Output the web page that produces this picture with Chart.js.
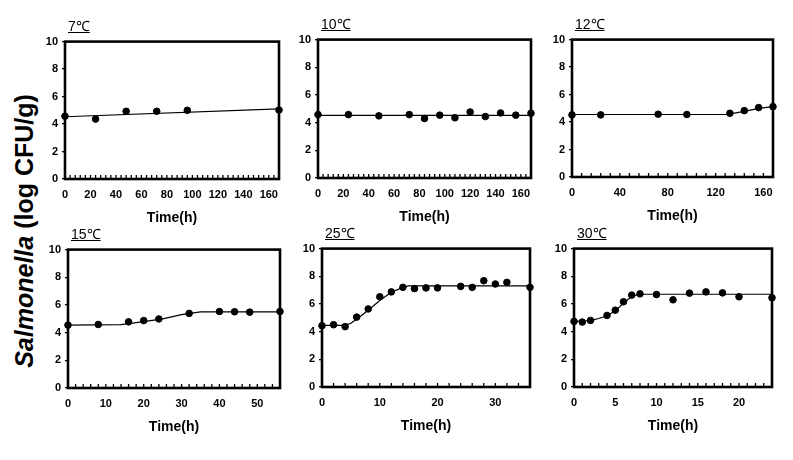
<!DOCTYPE html>
<html lang="en">
<head>
<meta charset="UTF-8" />
<title>Salmonella growth curves</title>
<script src="https://cdn.jsdelivr.net/npm/chart.js@4.4.0/dist/chart.umd.min.js"></script>
<style>
  body{margin:0;background:#fff;width:793px;height:460px;position:relative;overflow:hidden;font-family:"Liberation Sans",Arial,sans-serif;}
  canvas{position:absolute;}
  .temp{position:absolute;font-size:14px;line-height:16px;text-decoration:underline;color:#000;white-space:nowrap;}
  #ylab{position:absolute;left:24px;top:231px;transform:translate(-50%,-50%) rotate(-90deg);font-weight:bold;font-size:25px;white-space:nowrap;color:#000;}
</style>
</head>
<body>
<div id="ylab"><i>Salmonella</i> (log CFU/g)</div>

<script>
  // ---- observed counts (log CFU/g) and fitted curves, per temperature ----
  const temps = ['7℃', '10℃', '12℃', '15℃', '25℃', '30℃'];

  const t7   = [0, 24, 48, 72, 96, 168];
  const y7   = [4.57, 4.36, 4.93, 4.93, 5.0, 5.02];
  const ft7  = [0, 168];
  const fy7  = [4.53, 5.1];

  const t10  = [0, 24, 48, 72, 84, 96, 108, 120, 132, 144, 156, 168];
  const y10  = [4.58, 4.58, 4.49, 4.58, 4.3, 4.54, 4.35, 4.77, 4.44, 4.7, 4.54, 4.68];
  const ft10 = [0, 168];
  const fy10 = [4.52, 4.52];

  const t12  = [0, 24, 72, 96, 132, 144, 156, 168];
  const y12  = [4.52, 4.52, 4.57, 4.55, 4.64, 4.83, 5.05, 5.12];
  const ft12 = [0, 130, 144, 156, 168];
  const fy12 = [4.55, 4.56, 4.78, 5.0, 5.12];

  const t15  = [0, 8, 16, 20, 24, 32, 40, 44, 48, 56];
  const y15  = [4.54, 4.59, 4.78, 4.87, 4.99, 5.39, 5.53, 5.51, 5.48, 5.53];
  const ft15 = [0, 14, 20, 25, 30, 35, 56];
  const fy15 = [4.55, 4.58, 4.8, 5.0, 5.3, 5.5, 5.5];

  const t25  = [0, 2, 4, 6, 8, 10, 12, 14, 16, 18, 20, 24, 26, 28, 30, 32, 36];
  const y25  = [4.43, 4.5, 4.36, 5.05, 5.64, 6.52, 6.87, 7.2, 7.11, 7.16, 7.16, 7.27, 7.2, 7.68, 7.44, 7.56, 7.2];
  const ft25 = [0, 4, 5, 6, 8, 10, 12, 14, 15, 36];
  const fy25 = [4.45, 4.45, 4.6, 4.9, 5.55, 6.25, 6.85, 7.2, 7.3, 7.3];

  const t30  = [0, 1, 2, 4, 5, 6, 7, 8, 10, 12, 14, 16, 18, 20, 24];
  const y30  = [4.74, 4.69, 4.81, 5.17, 5.55, 6.16, 6.64, 6.73, 6.68, 6.3, 6.78, 6.87, 6.8, 6.52, 6.45];
  const ft30 = [0, 2, 3, 4, 5, 6, 7, 8, 24];
  const fy30 = [4.75, 4.8, 4.95, 5.15, 5.5, 6.05, 6.55, 6.7, 6.7];

  // axis settings: max, label step, small tick step
  const xMaxes  = [168, 168, 168, 56, 36, 24];
  const xSteps  = [20, 20, 40, 10, 10, 5];
  const xMinors = [4, 4, 8, 2, 2, 1];

  const obsT = [t7, t10, t12, t15, t25, t30];
  const obsY = [y7, y10, y12, y15, y25, y30];
  const fitT = [ft7, ft10, ft12, ft15, ft25, ft30];
  const fitY = [fy7, fy10, fy12, fy15, fy25, fy30];

  // plot area boxes [left, top, width, height] on the page
  const boxes = [
    [65, 39, 214, 140], [318, 37, 213, 141], [572, 37, 201, 140],
    [68, 247, 212, 141], [322, 246, 208, 141], [574, 246, 198, 141]
  ];

  const PADL = 30, PADT = 8, PADR = 12, XH = 48;
  const tickFont = { family: 'Liberation Sans', size: 11, weight: 'bold' };

  // frame box + small inward ticks on the time axis
  const framePlugin = {
    id: 'frame',
    beforeDatasetsDraw(chart, args, opts) {
      const { ctx, chartArea: a, scales: { x } } = chart;
      ctx.save();
      ctx.strokeStyle = '#000';
      ctx.lineWidth = 1.3;
      for (let v = 0; v <= x.max + 1e-9; v += opts.minor) {
        const px = x.getPixelForValue(v);
        ctx.beginPath();
        ctx.moveTo(px, a.bottom);
        ctx.lineTo(px, a.bottom - 4);
        ctx.stroke();
      }
      ctx.lineWidth = 2.6;
      ctx.strokeRect(a.left, a.top, a.width, a.height);
      ctx.restore();
    }
  };

  temps.forEach((name, i) => {
    const [L, T, W, H] = boxes[i];
    const cv = document.createElement('canvas');
    cv.width = W + PADL + PADR;
    cv.height = H + PADT + XH;
    cv.style.left = (L - PADL) + 'px';
    cv.style.top = (T - PADT) + 'px';
    document.body.appendChild(cv);

    const lab = document.createElement('div');
    lab.className = 'temp';
    lab.textContent = name;
    lab.style.left = (L + 3) + 'px';
    lab.style.top = (T - 21) + 'px';
    document.body.appendChild(lab);

    new Chart(cv, {
      type: 'scatter',
      data: {
        datasets: [
          {
            data: fitT[i].map((t, k) => ({ x: t, y: fitY[i][k] })),
            showLine: true, borderColor: '#000', borderWidth: 1.2,
            pointRadius: 0, clip: false
          },
          {
            data: obsT[i].map((t, k) => ({ x: t, y: obsY[i][k] })),
            backgroundColor: '#000', borderColor: '#000',
            pointRadius: 3.3, clip: false
          }
        ]
      },
      options: {
        responsive: false,
        animation: false,
        layout: { padding: { top: PADT, right: PADR, left: 0, bottom: 0 } },
        plugins: { legend: { display: false }, tooltip: { enabled: false }, frame: { minor: xMinors[i] } },
        scales: {
          x: {
            type: 'linear', min: 0, max: xMaxes[i],
            border: { display: false },
            grid: { display: false, drawTicks: false },
            ticks: { stepSize: xSteps[i], includeBounds: false, color: '#000', font: tickFont, padding: 9, maxRotation: 0 },
            title: { display: true, text: 'Time(h)', color: '#000', padding: 0,
                     font: { family: 'Liberation Sans', size: 14, weight: 'bold' } },
            afterFit: s => { s.height = XH; }
          },
          y: {
            min: 0, max: 10,
            border: { display: false },
            grid: { drawOnChartArea: false, drawTicks: true, tickLength: 3, color: '#000', lineWidth: 1.3 },
            ticks: { stepSize: 2, color: '#000', font: tickFont, padding: 4 },
            afterFit: s => { s.width = PADL; }
          }
        }
      },
      plugins: [framePlugin]
    });
  });
</script>
</body>
</html>
